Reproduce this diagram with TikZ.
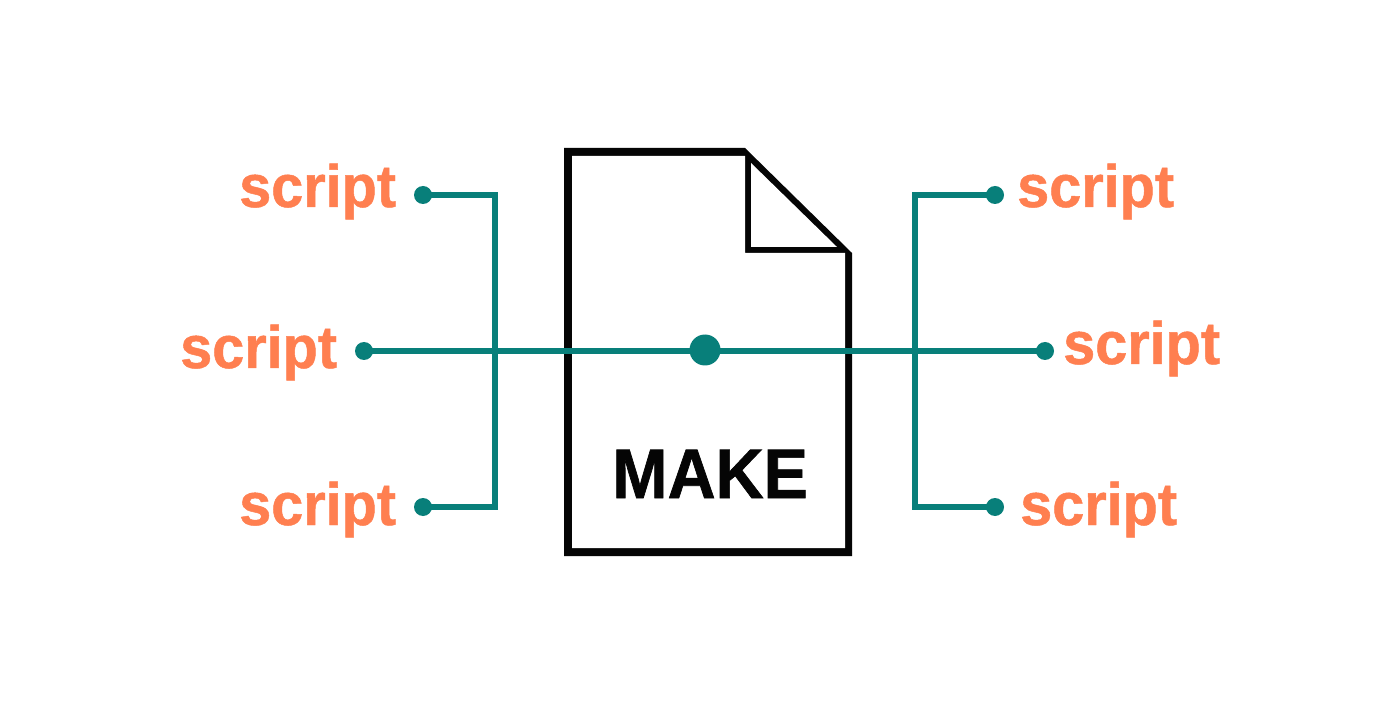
\documentclass[tikz,border=0pt]{standalone}
\usepackage{fontspec}
\newfontfamily\lblfamily[FakeStretch=0.96,FakeBold=0.8]{Liberation Sans}
\newfontfamily\makefamily[FakeStretch=0.95,FakeBold=1]{Liberation Sans}
\definecolor{tealline}{HTML}{087F7A}
\definecolor{coral}{HTML}{FF7F50}
\definecolor{inkblack}{HTML}{050505}
\tikzset{
  wire/.style={draw=tealline,line width=6pt,line join=miter},
  enddot/.style={circle,fill=tealline,inner sep=0pt,minimum size=18pt},
  hubdot/.style={circle,fill=tealline,inner sep=0pt,minimum size=31pt},
  lbl/.style={text=coral,inner sep=0pt,anchor=base west,font=\lblfamily\bfseries\fontsize{60}{60}\selectfont},
  pageink/.style={fill=inkblack},
  pagepaper/.style={fill=white},
}
\begin{document}
\begin{tikzpicture}[x=1pt,y=-1pt]
\useasboundingbox[fill=white] (0,0) rectangle (1400,708);
% document
\fill[pageink] (564,148) -- (745,148) -- (852,253) -- (852,556) -- (564,556) -- cycle;
\fill[pagepaper] (572,156) -- (745,156) -- (745,253) -- (845,253) -- (845,548) -- (572,548) -- cycle;
\fill[pagepaper] (751,163) -- (751,247) -- (837,247) -- cycle;
\node[inner sep=0pt,anchor=base west,text=inkblack,font=\makefamily\bfseries\fontsize{70}{70}\selectfont] (make) at (612,498) {MAKE};
% labels
\node[lbl] (tl) at (239,207) {script};
\node[lbl] (ml) at (180,368) {script};
\node[lbl] (bl) at (239,525) {script};
\node[lbl] (tr) at (1017,207) {script};
\node[lbl] (mr) at (1063,364) {script};
\node[lbl] (br) at (1020,525) {script};
% dots
\node[enddot] (dtl) at (423,195) {};
\node[enddot] (dml) at (364,351) {};
\node[enddot] (dbl) at (423,507) {};
\node[enddot] (dtr) at (995,195) {};
\node[enddot] (dmr) at (1045,351) {};
\node[enddot] (dbr) at (995,507) {};
\node[hubdot] (hub) at (705,350) {};
\coordinate (lv) at (495,351);
\coordinate (rv) at (915,351);
% connectors
\draw[wire] (dtl.center) -| (lv) |- (dbl.center);
\draw[wire] (dtr.center) -| (rv) |- (dbr.center);
\draw[wire] (dml.center) -- (hub.center |- dml.center) -- (dmr.center);
\end{tikzpicture}
\end{document}
